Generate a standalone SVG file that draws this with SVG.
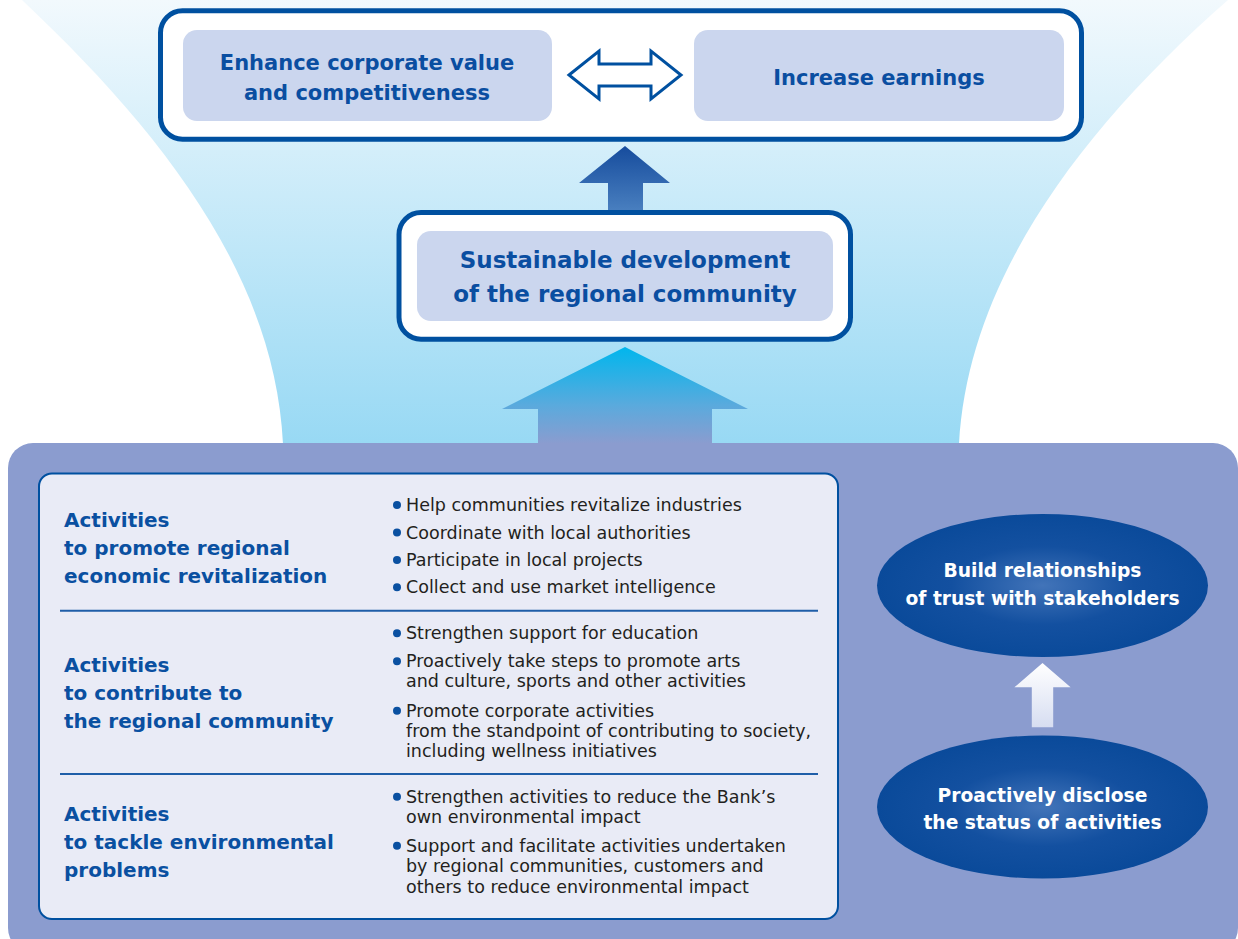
<svg xmlns="http://www.w3.org/2000/svg" width="1238" height="939" viewBox="0 0 1238 939">
<defs>
<linearGradient id="funnelG" x1="0" y1="0" x2="0" y2="443" gradientUnits="userSpaceOnUse">
<stop offset="0" stop-color="#f2f9fd"/>
<stop offset="1" stop-color="#98d9f4"/>
</linearGradient>
<linearGradient id="arrowTopG" x1="0" y1="146" x2="0" y2="212" gradientUnits="userSpaceOnUse">
<stop offset="0" stop-color="#164c9d"/>
<stop offset="1" stop-color="#4a80c0"/>
</linearGradient>
<linearGradient id="arrowBigG" x1="0" y1="347" x2="0" y2="444" gradientUnits="userSpaceOnUse">
<stop offset="0" stop-color="#00b6ed"/>
<stop offset="0.6" stop-color="#5aaadd"/>
<stop offset="1" stop-color="#8b9ccf"/>
</linearGradient>
<linearGradient id="arrowWhiteG" x1="0" y1="663" x2="0" y2="728" gradientUnits="userSpaceOnUse">
<stop offset="0" stop-color="#ffffff"/>
<stop offset="1" stop-color="#d6ddf1"/>
</linearGradient>
<radialGradient id="ellG" cx="0.5" cy="0.5" r="0.5">
<stop offset="0" stop-color="#4274b9"/>
<stop offset="0.55" stop-color="#1350a0"/>
<stop offset="1" stop-color="#0a4a9a"/>
</radialGradient>
<style>
.outer{fill:#ffffff;stroke:#0050a0;stroke-width:5}
.inner{fill:#cbd6ee}
.ttl{font-family:"DejaVu Sans",sans-serif;font-weight:bold;fill:#0a4ea1;text-anchor:middle}
.hd{font-family:"DejaVu Sans",sans-serif;font-weight:bold;font-size:20px;fill:#0a50a1}
.bl{font-family:"DejaVu Sans",sans-serif;font-size:17.5px;fill:#231f20}
.dot{fill:#0a50a1}
.ell{fill:url(#ellG)}
.et{font-family:"DejaVu Sans",sans-serif;font-weight:bold;font-size:18.7px;fill:#ffffff;text-anchor:middle}
.div{stroke:#1f5ea8;stroke-width:2}
</style>
</defs>

<rect x="0" y="0" width="1238" height="939" fill="#ffffff"/>
<path id="funnel" d="M22,0 C160,130 275,275 283,444 L959,444 C968,280 1080,130 1228,0 Z" fill="url(#funnelG)"/>

<g id="topBox">
<rect class="outer" x="160.5" y="10.8" width="921" height="128.5" rx="22"/>
<g id="enhance">
<rect class="inner" x="183" y="30" width="369" height="91" rx="14"/>
<text class="ttl" font-size="21" x="367" y="70">Enhance corporate value</text>
<text class="ttl" font-size="21" x="367" y="100">and competitiveness</text>
</g>
<g id="earnings">
<rect class="inner" x="694" y="30" width="370" height="91" rx="14"/>
<text class="ttl" font-size="21" x="879" y="85">Increase earnings</text>
</g>
</g>

<g id="sustainable">
<rect class="outer" x="399" y="212.5" width="451.5" height="126.7" rx="22"/>
<rect class="inner" x="417" y="231" width="416" height="90" rx="14"/>
<text class="ttl" font-size="23" x="625" y="268">Sustainable development</text>
<text class="ttl" font-size="23" x="625" y="302">of the regional community</text>
</g>

<g id="connectors">
<path id="biArrow" d="M569,75 L599,51 L599,64 L651,64 L651,51 L681,75 L651,99 L651,86 L599,86 L599,99 Z" fill="#ffffff" stroke="#0050a0" stroke-width="3" stroke-linejoin="miter"/>
<path id="arrowUp1" d="M625,146 L670,183 L643,183 L643,210 L608,210 L608,183 L579,183 Z" fill="url(#arrowTopG)"/>
<path id="arrowUp2" d="M625,347 L748,409 L712,409 L712,444 L538,444 L538,409 L502,409 Z" fill="url(#arrowBigG)"/>
</g>

<g id="panel">
<rect x="8" y="443" width="1230" height="510" rx="25" fill="#8b9ccf"/>
<rect x="39" y="473.5" width="799" height="445.5" rx="13" fill="#e9ebf6" stroke="#0050a0" stroke-width="2"/>
<line class="div" x1="60" y1="610.7" x2="818" y2="610.7"/>
<line class="div" x1="60" y1="774" x2="818" y2="774"/>
</g>

<g id="activity1">
<text class="hd" x="64" y="527">Activities</text>
<text class="hd" x="64" y="555">to promote regional</text>
<text class="hd" x="64" y="583">economic revitalization</text>
<circle class="dot" cx="397" cy="505" r="4"/>
<text class="bl" x="406" y="511">Help communities revitalize industries</text>
<circle class="dot" cx="397" cy="532.5" r="4"/>
<text class="bl" x="406" y="538.5">Coordinate with local authorities</text>
<circle class="dot" cx="397" cy="560" r="4"/>
<text class="bl" x="406" y="566">Participate in local projects</text>
<circle class="dot" cx="397" cy="587.3" r="4"/>
<text class="bl" x="406" y="593.3">Collect and use market intelligence</text>
</g>

<g id="activity2">
<text class="hd" x="64" y="671.7">Activities</text>
<text class="hd" x="64" y="700">to contribute to</text>
<text class="hd" x="64" y="727.5">the regional community</text>
<circle class="dot" cx="397" cy="633.3" r="4"/>
<text class="bl" x="406" y="639.3">Strengthen support for education</text>
<circle class="dot" cx="397" cy="661.3" r="4"/>
<text class="bl" x="406" y="667.3">Proactively take steps to promote arts</text>
<text class="bl" x="406" y="687.3">and culture, sports and other activities</text>
<circle class="dot" cx="397" cy="710.7" r="4"/>
<text class="bl" x="406" y="716.7">Promote corporate activities</text>
<text class="bl" x="406" y="736.7">from the standpoint of contributing to society,</text>
<text class="bl" x="406" y="757">including wellness initiatives</text>
</g>

<g id="activity3">
<text class="hd" x="64" y="821">Activities</text>
<text class="hd" x="64" y="849.3">to tackle environmental</text>
<text class="hd" x="64" y="877.3">problems</text>
<circle class="dot" cx="397" cy="796.7" r="4"/>
<text class="bl" x="406" y="802.7">Strengthen activities to reduce the Bank’s</text>
<text class="bl" x="406" y="823.3">own environmental impact</text>
<circle class="dot" cx="397" cy="845.7" r="4"/>
<text class="bl" x="406" y="851.7">Support and facilitate activities undertaken</text>
<text class="bl" x="406" y="872.3">by regional communities, customers and</text>
<text class="bl" x="406" y="892.7">others to reduce environmental impact</text>
</g>

<g id="trust">
<ellipse class="ell" cx="1042.5" cy="585.5" rx="165.5" ry="71.5"/>
<text class="et" x="1042.5" y="577">Build relationships</text>
<text class="et" x="1042.5" y="605">of trust with stakeholders</text>
</g>

<path id="arrowUp3" d="M1042.5,663 L1070.6,687.3 L1053.2,687.3 L1053.2,727.3 L1031.8,727.3 L1031.8,687.3 L1014.4,687.3 Z" fill="url(#arrowWhiteG)"/>

<g id="disclose">
<ellipse class="ell" cx="1042.5" cy="807" rx="165.5" ry="71.5"/>
<text class="et" x="1042.5" y="801.7">Proactively disclose</text>
<text class="et" x="1042.5" y="829.3">the status of activities</text>
</g>
</svg>
